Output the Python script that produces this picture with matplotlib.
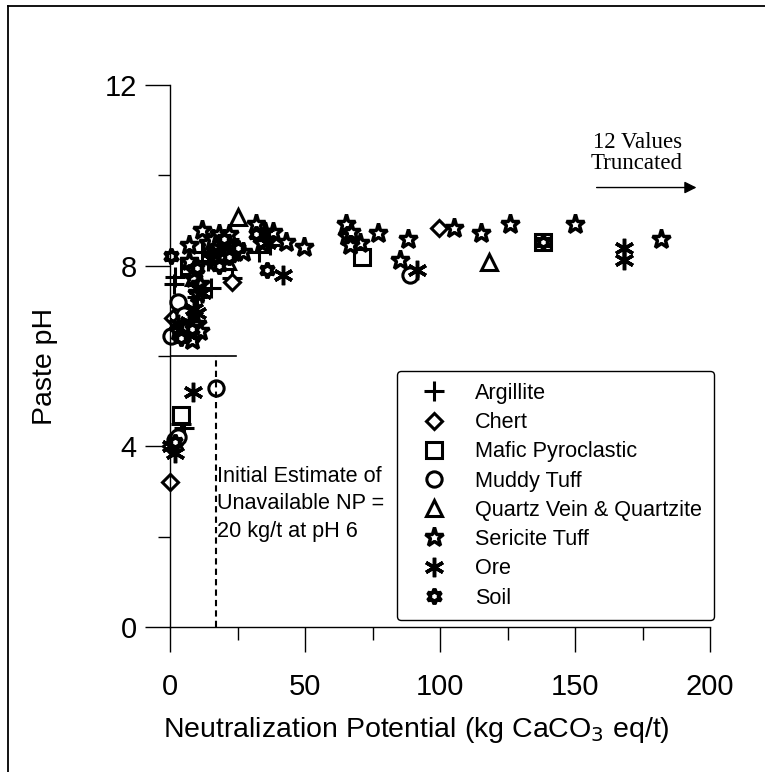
import matplotlib.pyplot as plt
from matplotlib.lines import Line2D
from matplotlib.ticker import MultipleLocator

plt.rcParams['font.family'] = ['Liberation Sans', 'DejaVu Sans']

# Paste pH vs NP, by rock type
argillite_np = [1.5, 15, 33, 5, 4, 2, 23, 18, 14, 22, 8, 10, 12, 37, 17]
argillite_ph = [7.6, 7.5, 8.3, 4.4, 4.5, 7.75, 7.72, 8.4, 8.1, 8.6, 7.9, 7.3, 8.3, 8.45, 8.55]

chert_np = [0, 0.5, 1, 23, 99.5, 3, 36]
chert_ph = [3.2, 4.0, 6.85, 7.63, 8.83, 6.6, 8.6]

mafic_np = [4, 71, 138, 7, 17]
mafic_ph = [4.7, 8.2, 8.52, 8.0, 8.4]

muddy_np = [17, 2, 3, 3, 0.2, 8, 89, 4, 5]
muddy_ph = [5.3, 4.15, 4.2, 7.2, 6.45, 6.45, 7.8, 6.7, 6.9]

quartz_np = [25, 21, 118, 9, 20]
quartz_ph = [9.07, 8.1, 8.08, 7.75, 8.3]

sericite_np = [31.7, 35, 35.5, 42.8, 49.5, 65, 65.7, 67, 70.5, 77, 88, 85, 105,
               115, 126, 150, 182, 12, 7, 7, 8.5, 10, 11, 14, 16, 18, 20, 22,
               24, 27, 6, 8, 10, 5, 3, 11, 9, 16, 38, 34, 66.5]
sericite_ph = [8.93, 8.75, 8.6, 8.52, 8.41, 8.93, 8.65, 8.75, 8.5, 8.72, 8.6,
               8.12, 8.83, 8.72, 8.93, 8.93, 8.6, 8.78, 8.45, 8.1, 7.72, 7.4,
               7.6, 8.5, 8.6, 8.7, 8.6, 8.7, 8.3, 8.3, 6.6, 6.35, 6.7, 6.5,
               6.55, 6.55, 7.9, 8.2, 8.75, 8.5, 8.45]

ore_np = [8.7, 2, 0.5, 42, 91.6, 168, 168, 10, 9, 4, 6, 7, 10, 12, 18, 20, 15,
          35, 36, 3, 5]
ore_ph = [5.2, 3.85, 4.0, 7.8, 7.9, 8.4, 8.12, 6.95, 7.05, 6.6, 6.5, 6.75, 7.5,
          7.4, 8.3, 8.45, 8.15, 8.7, 8.5, 6.7, 6.6]

soil_np = [0.2, 36, 138, 10, 18, 22, 25, 32, 2, 6, 4, 8, 20]
soil_ph = [8.22, 7.9, 8.52, 7.95, 8.0, 8.2, 8.4, 8.7, 4.1, 6.65, 6.4, 6.6, 8.6]

series = [
    ("Argillite", argillite_np, argillite_ph, dict(marker='+', ms=15, mew=2.2)),
    ("Chert", chert_np, chert_ph, dict(marker='D', ms=8, mew=2.2, mfc='white')),
    ("Mafic Pyroclastic", mafic_np, mafic_ph, dict(marker='s', ms=12, mew=2.2, mfc='white')),
    ("Muddy Tuff", muddy_np, muddy_ph, dict(marker='o', ms=11, mew=2.2, mfc='white')),
    ("Quartz Vein & Quartzite", quartz_np, quartz_ph, dict(marker='^', ms=12, mew=2.2, mfc='white')),
    ("Sericite Tuff", sericite_np, sericite_ph, dict(marker='*', ms=14, mew=2.5, mfc='white')),
    ("Ore", ore_np, ore_ph, dict(marker=(6, 2, 0), ms=14, mew=2.5)),
    ("Soil", soil_np, soil_ph, dict(marker=(6, 1, 0), ms=11, mew=2.8, mfc='white')),
]

fig = plt.figure(figsize=(7.65, 7.72), dpi=100)
ax = fig.add_axes([170 / 765, 1 - 627 / 772, 540 / 765, 542 / 772])

handles = []
for name, xs, ys, style in series:
    ax.plot(xs, ys, ls='none', color='black', mec='black', clip_on=False, **style)
    handles.append(Line2D([], [], ls='none', color='black', mec='black', **style))

# pH 6 line and unavailable NP line
ax.plot([0, 24.5], [6, 6], color='black', lw=1.2)
ax.plot([17, 17], [0, 6], color='black', lw=1.5, ls=(0, (3, 2)))

ax.text(17.5, 3.57, "Initial Estimate of\nUnavailable NP =\n20 kg/t at pH 6",
        fontsize=15.6, va='top', ha='left', linespacing=1.42)

ax.text(173, 10.5, "12 Values\nTruncated", family='Liberation Serif',
        fontsize=16.5, ha='center', va='center', linespacing=1.0)
ax.annotate("", xy=(195, 9.73), xytext=(158, 9.73),
            arrowprops=dict(arrowstyle='-|>', color='black', lw=1,
                            mutation_scale=18, shrinkA=0, shrinkB=0))

ax.set_xlim(0, 200)
ax.set_ylim(0, 12)
ax.xaxis.set_major_locator(MultipleLocator(50))
ax.xaxis.set_minor_locator(MultipleLocator(25))
ax.yaxis.set_major_locator(MultipleLocator(4))
ax.yaxis.set_minor_locator(MultipleLocator(2))
ax.spines['top'].set_visible(False)
ax.spines['right'].set_visible(False)
for s in ['left', 'bottom']:
    ax.spines[s].set_linewidth(1)
ax.tick_params(which='major', length=18, width=1, labelsize=21)
ax.tick_params(which='minor', length=9, width=1)
ax.tick_params(axis='x', which='major', pad=15)
ax.tick_params(axis='y', which='major', pad=6)

ax.set_xlabel("Neutralization Potential (kg CaCO$_3$ eq/t)", fontsize=20.5)
ax.set_ylabel("Paste pH", fontsize=20.5)
ax.xaxis.set_label_coords(0.457, -0.163)
ax.yaxis.set_label_coords(-0.207, 0.48)

leg = fig.legend(handles, [s[0] for s in series], loc='upper left',
                 bbox_to_anchor=(397 / 765, 1 - 371 / 772), fontsize=15.6,
                 frameon=True, fancybox=True, edgecolor='black',
                 labelspacing=0.38, handletextpad=0.75, borderpad=0.55,
                 handlelength=2.3, borderaxespad=0)
leg.get_frame().set_linewidth(1)
leg.get_frame().set_alpha(1)

# border lines of the original frame
fig.add_artist(Line2D([8 / 765, 1], [1 - 6 / 772, 1 - 6 / 772], color='black', lw=1.3))
fig.add_artist(Line2D([8 / 765, 8 / 765], [0, 1 - 6 / 772], color='black', lw=1.3))

fig.savefig("out.png", dpi=100)
